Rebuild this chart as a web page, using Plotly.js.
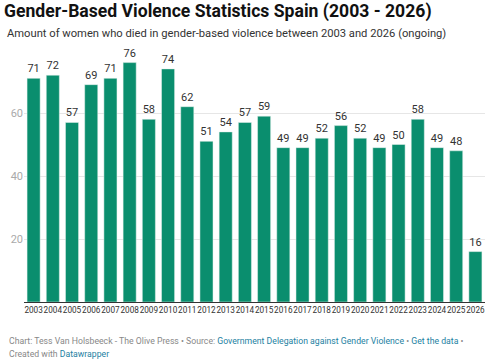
<!DOCTYPE html>
<html>
<head>
<meta charset="utf-8">
<script src="https://cdn.plot.ly/plotly-3.0.1.min.js"></script>
<style>html,body{margin:0;padding:0;background:#fff;}#chart{width:490px;height:363px;}</style>
</head>
<body>
<div id="chart"></div>
<script>
const years = ["2003","2004","2005","2006","2007","2008","2009","2010","2011","2012","2013","2014","2015","2016","2017","2018","2019","2020","2021","2022","2023","2024","2025","2026"];
const deaths = [71,72,57,69,71,76,58,74,62,51,54,57,59,49,49,52,56,52,49,50,58,49,48,16];
const yTicks = [20,40,60];

const trace = {
  type: "bar",
  x: years,
  y: deaths,
  text: deaths.map(String),
  textposition: "outside",
  cliponaxis: false,
  textfont: {family: "Roboto, sans-serif", size: 11, color: "#333"},
  marker: {color: "#0a8e6e", line: {color: "#e8f3ef", width: 0.5}},
  hoverinfo: "x+y"
};

const layout = {
  width: 490, height: 363,
  margin: {l: 24, r: 5, t: 50, b: 61},
  paper_bgcolor: "#fff", plot_bgcolor: "#fff",
  bargap: 0.32,
  showlegend: false,
  font: {family: "Roboto, sans-serif"},
  xaxis: {
    type: "category",
    showline: true, linecolor: "#333", linewidth: 1,
    ticks: "", tickfont: {size: 8.2, color: "#333"},
    showgrid: false, fixedrange: true, tickangle: 0
  },
  yaxis: {
    range: [0, 80],
    tickvals: yTicks, ticktext: yTicks.map(String),
    tickfont: {size: 11, color: "#aaa"},
    showgrid: true, gridcolor: "#e6e6e6", gridwidth: 1,
    zeroline: false, showline: false, ticks: "", fixedrange: true
  },
  annotations: [
    {text: "<b>Gender-Based Violence Statistics Spain (2003 - 2026)</b>", xref: "paper", yref: "paper",
     x: -22/461, xanchor: "left", y: 1 + (50-11)/252, yanchor: "middle", showarrow: false,
     font: {family: "Roboto, sans-serif", size: 17.6, color: "#111"}},
    {text: "Amount of women who died in gender-based violence between 2003 and 2026 (ongoing)", xref: "paper", yref: "paper",
     x: -19/461, xanchor: "left", y: 1 + (50-33)/252, yanchor: "middle", showarrow: false,
     font: {family: "Roboto, sans-serif", size: 11.2, color: "#333"}},
    {text: "Chart: Tess Van Holsbeeck - The Olive Press • Source: <span style='color:#1d81a2'>Government Delegation against Gender Violence</span> • <span style='color:#1d81a2'>Get the data</span> •",
     xref: "paper", yref: "paper", x: -17/461, xanchor: "left", y: -(341-302)/252, yanchor: "middle", showarrow: false,
     font: {family: "Roboto, sans-serif", size: 8.7, color: "#888"}},
    {text: "Created with <span style='color:#1d81a2'>Datawrapper</span>",
     xref: "paper", yref: "paper", x: -17/461, xanchor: "left", y: -(354-302)/252, yanchor: "middle", showarrow: false,
     font: {family: "Roboto, sans-serif", size: 8.7, color: "#888"}}
  ]
};

Plotly.newPlot("chart", [trace], layout, {displayModeBar: false, staticPlot: true});
</script>
</body>
</html>
